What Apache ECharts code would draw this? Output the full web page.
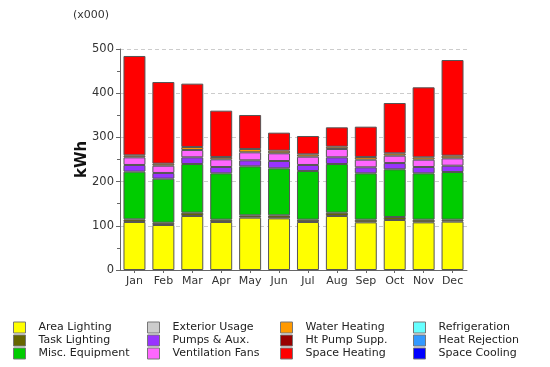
<!DOCTYPE html>
<html>
<head>
<meta charset="utf-8">
<script src="https://cdn.jsdelivr.net/npm/echarts@6/dist/echarts.min.js"></script>
<style>html,body{margin:0;padding:0;background:#fff;}#c{width:550px;height:367px;}</style>
</head>
<body>
<div id="c"></div>
<script>
var months = ['Jan','Feb','Mar','Apr','May','Jun','Jul','Aug','Sep','Oct','Nov','Dec'];
var areaLighting   = [108.6,101.8,122.2,108.6,118.4,116.9,108.6,122.2,107.8,113.1,107.8,109.4];
var taskLighting   = [6.0,5.2,7.5,5.3,5.3,6.8,5.3,7.5,6.1,6.8,6.1,4.5];
var miscEquipment  = [107.9,99.6,110.1,104.8,110.8,106.3,110.1,110.1,104.8,107.9,104.8,107.8];
var exteriorUsage  = [0,0,0,0,0,0,0,0,0,0,0,0];
var pumpsAux       = [15.1,12.9,15.1,14.3,13.6,16.6,13.6,15.1,13.6,14.2,14.3,14.3];
var ventFans       = [17.3,16.5,16.6,17.4,18.1,17.4,18.8,18.9,17.3,16.7,16.6,16.6];
var waterHeating   = [4.5,4.6,6.8,5.3,7.6,6.0,5.3,5.2,6.1,5.3,5.4,6.1];
var htPumpSupp     = [0,0,0,0,0,0,0,0,0,0,0,0];
var spaceHeating   = [224.8,184.7,143.3,104.8,76.9,40.7,41.5,43.8,68.6,113.8,158.3,216.4];
var refrigeration  = [0,0,0,0,0,0,0,0,0,0,0,0];
var heatRejection  = [0,0,0,0,0,0,0,0,0,0,0,0];
var spaceCooling   = [0,0,0,0,0,0,0,0,0,0,0,0];
var yTicks = [0,100,200,300,400,500];

var seriesDefs = [
  ['Area Lighting', areaLighting, '#FFFF00'],
  ['Task Lighting', taskLighting, '#666600'],
  ['Misc. Equipment', miscEquipment, '#00CC00'],
  ['Exterior Usage', exteriorUsage, '#CCCCCC'],
  ['Pumps & Aux.', pumpsAux, '#9933FF'],
  ['Ventilation Fans', ventFans, '#FF66FF'],
  ['Water Heating', waterHeating, '#FF9900'],
  ['Ht Pump Supp.', htPumpSupp, '#990000'],
  ['Space Heating', spaceHeating, '#FF0000'],
  ['Refrigeration', refrigeration, '#66FFFF'],
  ['Heat Rejection', heatRejection, '#3399FF'],
  ['Space Cooling', spaceCooling, '#0000FF']
];

var FONT = 'DejaVu Sans';
var series = seriesDefs.map(function(d){
  var allZero = d[1].every(function(v){return v===0;});
  return {
    name: d[0], type: 'bar', stack: 'total',
    data: allZero ? d[1].map(function(){return '-';}) : d[1],
    barCategoryGap: '24%',
    itemStyle: {color: d[2], borderColor: '#555', borderWidth: 1},
    emphasis: {disabled: true}
  };
});

var legendCols = [13, 147, 280, 413];
var legends = [0,1,2,3].map(function(c){
  return {
    orient: 'vertical', left: legendCols[c], top: 321, padding: 0,
    itemWidth: 12, itemHeight: 11, itemGap: 0,
    icon: 'rect',
    data: seriesDefs.slice(c*3, c*3+3).map(function(d){return d[0];}),
    itemStyle: {borderColor: '#777', borderWidth: 1},
    textStyle: {fontFamily: FONT, fontSize: 11, color: '#222', padding: [0,0,0,8], lineHeight: 13},
    selectedMode: false
  };
});

var chart = echarts.init(document.getElementById('c'), null, {renderer: 'canvas'});
chart.setOption({
  animation: false,
  backgroundColor: '#fff',
  grid: {left: 120, right: 83, top: 49, bottom: 97},
  graphic: [{type: 'text', left: 73, top: 10, style: {text: '(x000)', font: '11px "DejaVu Sans"', fill: '#333'}}],
  legend: legends,
  xAxis: {
    type: 'category', data: months,
    axisLine: {lineStyle: {color: '#666'}},
    axisTick: {show: true, alignWithLabel: true, length: 3, lineStyle: {color: '#666'}},
    axisLabel: {fontFamily: FONT, fontSize: 11, color: '#333', margin: 6, interval: 0}
  },
  yAxis: {
    type: 'value', min: yTicks[0], max: yTicks[yTicks.length-1], interval: 100,
    name: 'kWh', nameLocation: 'middle', nameGap: 30, nameRotate: 90, nameMoveOverlap: false,
    nameTextStyle: {fontFamily: FONT, fontSize: 15, fontWeight: 'bold', color: '#111'},
    axisLine: {show: true, lineStyle: {color: '#666'}},
    axisTick: {show: true, length: 4, lineStyle: {color: '#666'}},
    minorTick: {show: true, splitNumber: 2, length: 3, lineStyle: {color: '#666'}},
    axisLabel: {fontFamily: FONT, fontSize: 11.5, color: '#333', margin: 6},
    splitLine: {show: true, lineStyle: {color: '#ccc', type: [4,3]}}
  },
  series: series
});
</script>
</body>
</html>
